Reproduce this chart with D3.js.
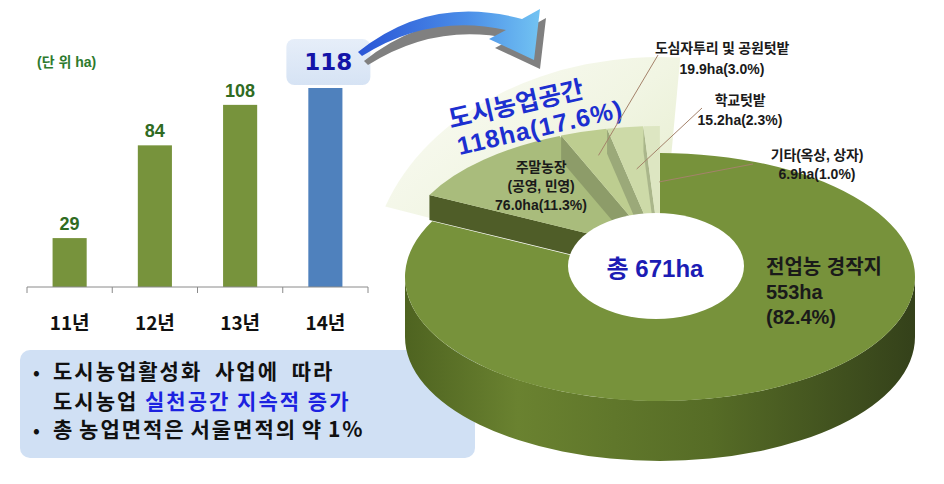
<!DOCTYPE html>
<html>
<head>
<meta charset="utf-8">
<script src="https://cdn.jsdelivr.net/npm/d3@7"></script>
<style>
  body { margin: 0; background: #fff; }
  svg { display: block; }
</style>
</head>
<body>
<svg id="chart" width="944" height="484"></svg>
<script>
// --- data ---
const years = ['11년', '12년', '13년', '14년'];
const areas = [29, 84, 108, 118];
const unitLabel = '(단 위 ha)';

const sliceNames = ['전업농 경작지', '주말농장', '도심자투리 및 공원텃밭', '학교텃밭', '기타(옥상, 상자)'];
const sliceNotes = ['', '(공영, 민영)', '', '', ''];
const sliceValues = [553, 76.0, 19.9, 15.2, 6.9];
const slicePercents = [82.4, 11.3, 3.0, 2.3, 1.0];
const urbanTitle = '도시농업공간';
const totalWord = '총';

const noteLines = [
  [{ t: '도시농업활성화 사업에 따라', c: 'k' }],
  [{ t: '도시농업 ', c: 'k' }, { t: '실천공간 지속적 증가', c: 'b' }],
  [{ t: '총 농업면적은 서울면적의 약 1%', c: 'k' }]
];

const svg = d3.select('#chart');
const defs = svg.append('defs');

function linGrad(id, stops, x2, y2) {
  const g = defs.append('linearGradient').attr('id', id)
    .attr('x1', 0).attr('y1', 0).attr('x2', x2).attr('y2', y2);
  stops.forEach(s => g.append('stop').attr('offset', s[0]).attr('stop-color', s[1]));
}
linGrad('wallGrad', [[0, '#4e6320'], [0.22, '#6a8230'], [0.6, '#566c26'], [1, '#34411a']], 1, 0);
linGrad('fanGrad', [[0, '#fbfcf6'], [0.5, '#f1f5e3'], [1, '#e2eac6']], 1, 1);
linGrad('arrowGrad', [[0, '#2a55d6'], [0.6, '#4b8ee8'], [1, '#72c3f2']], 1, 0);
linGrad('boxGrad', [[0, '#e6eef9'], [1, '#d6e3f4']], 0, 1);

const hangul = "'Noto Sans CJK KR', sans-serif";
const latin = "'Liberation Sans', 'Noto Sans CJK KR', sans-serif";

// --- note box (behind the pie) ---
svg.append('rect')
  .attr('x', 20).attr('y', 350).attr('width', 455).attr('height', 108)
  .attr('rx', 10).attr('fill', '#d0e0f4');

const noteY = [379, 409, 437];
const noteWordGap = [6, 0, -2];
noteLines.forEach((line, i) => {
  if (i !== 1) {
    svg.append('text').attr('x', 33).attr('y', noteY[i])
      .attr('font-family', hangul).attr('font-size', 18).attr('font-weight', 700)
      .attr('fill', '#111').text('•');
  }
  const t = svg.append('text').attr('x', 53).attr('y', noteY[i])
    .attr('font-family', hangul).attr('font-size', 21).attr('font-weight', 700)
    .attr('letter-spacing', 2).attr('word-spacing', noteWordGap[i]);
  line.forEach(p => t.append('tspan')
    .attr('fill', p.c === 'b' ? '#1c22e0' : '#111').text(p.t));
});

// --- bar chart ---
const x = d3.scaleBand().domain(years).range([27, 368]).paddingInner(0.6).paddingOuter(0.3);
const y = d3.scaleLinear().domain([0, d3.max(areas)]).range([287, 88]);
const last = years.length - 1;

svg.append('text').attr('x', 37).attr('y', 67)
  .attr('font-family', latin).attr('font-size', 14).attr('font-weight', 700)
  .attr('fill', '#2d7a2d').text(unitLabel);

svg.append('g').selectAll('rect').data(areas).join('rect')
  .attr('x', (d, i) => x(years[i]))
  .attr('y', d => y(d))
  .attr('width', x.bandwidth())
  .attr('height', d => y(0) - y(d))
  .attr('fill', (d, i) => i === last ? '#4f81bd' : '#77933c');

svg.append('g').selectAll('text').data(areas.slice(0, last)).join('text')
  .attr('x', (d, i) => x(years[i]) + x.bandwidth() / 2)
  .attr('y', d => y(d) - 8)
  .attr('text-anchor', 'middle')
  .attr('font-family', latin).attr('font-size', 18).attr('font-weight', 700)
  .attr('fill', '#2f6b22').text(d => d);

// axis with ticks between categories
const axisY = y(0);
svg.append('line')
  .attr('x1', x.range()[0]).attr('x2', x.range()[1])
  .attr('y1', axisY).attr('y2', axisY)
  .attr('stroke', '#8a8a8a');
svg.append('g').selectAll('line').data(d3.range(years.length + 1)).join('line')
  .attr('x1', i => x.range()[0] + i * x.step())
  .attr('x2', i => x.range()[0] + i * x.step())
  .attr('y1', axisY).attr('y2', axisY + 6)
  .attr('stroke', '#8a8a8a');
svg.append('g').selectAll('text').data(years).join('text')
  .attr('x', d => x(d) + x.bandwidth() / 2)
  .attr('y', 330)
  .attr('text-anchor', 'middle')
  .attr('font-family', hangul).attr('font-size', 19).attr('font-weight', 700)
  .attr('fill', '#111').text(d => d);

// highlighted last value in its box
const lastX = x(years[last]) + x.bandwidth() / 2 + 3;
svg.append('rect')
  .attr('x', lastX - 42).attr('y', y(areas[last]) - 49)
  .attr('width', 84).attr('height', 46).attr('rx', 8)
  .attr('fill', 'url(#boxGrad)');
svg.append('text')
  .attr('x', lastX).attr('y', y(areas[last]) - 26)
  .attr('text-anchor', 'middle').attr('dominant-baseline', 'central')
  .attr('font-family', "'DejaVu Sans', sans-serif").attr('font-size', 23).attr('font-weight', 700)
  .attr('fill', '#1414a8').text(areas[last]);

// --- curved arrow ---
const arrowPath = 'M358,52 Q430,-6 522,19 L540,9 L534,60 L489,39 L506,30 Q430,13 362,56 Z';
svg.append('path').attr('d', arrowPath).attr('fill', '#808080')
  .attr('transform', 'translate(6,9)');
svg.append('path').attr('d', arrowPath).attr('fill', 'url(#arrowGrad)');

// --- 3D donut ---
const cx = 660, cy = 277, rx = 255, ry = 124, depth = 60, lift = 25, explode = 4;
const k = ry / rx;
const TAU = Math.PI * 2;
const arcs = d3.pie().sort(null).startAngle(0).endAngle(TAU)(sliceValues);
const pt = (a, r, ox = 0, oy = 0) => [cx + ox + r * Math.sin(a), cy + oy - r * k * Math.cos(a)];

// pale callout fan for the urban group
const urbanStart = arcs[1].startAngle - TAU;
const fan = d3.arc()({ innerRadius: 0, outerRadius: 290, startAngle: urbanStart - 0.14, endAngle: 0.07 });
svg.append('path').attr('d', fan)
  .attr('transform', `translate(${cx},${cy}) scale(1,${220 / 290})`)
  .attr('fill', 'url(#fanGrad)');

// front wall of main slice
const main = arcs[0];
const w0 = Math.max(main.startAngle, Math.PI / 2), w1 = Math.min(main.endAngle, Math.PI * 1.5);
const p0 = pt(w0, rx), p1 = pt(w1, rx);
svg.append('path')
  .attr('d', `M${p0} A${rx},${ry} 0 0 1 ${p1} L${p1[0]},${p1[1] + depth} A${rx},${ry} 0 0 0 ${p0[0]},${p0[1] + depth} Z`)
  .attr('fill', 'url(#wallGrad)');

const topColors = ['#77923b', '#a9bc7c', '#bdcd90', '#cddaa8', '#dde6c2'];
const faceColors = ['#3f4a1e', '#4f5d28', '#8d9c69', '#9ba979', '#aab68b'];
const arcGen = d3.arc().innerRadius(0).outerRadius(rx);

svg.append('path').attr('d', arcGen(main))
  .attr('transform', `translate(${cx},${cy}) scale(1,${k})`)
  .attr('fill', topColors[0]);

const offsets = arcs.map((a, i) => {
  if (i === 0) return [0, 0];
  const mid = (a.startAngle + a.endAngle) / 2;
  return [explode * Math.sin(mid), -explode * k * Math.cos(mid) - lift];
});

arcs.slice(1).forEach((a, j) => {
  const i = j + 1;
  const [ox, oy] = offsets[i];
  const c0 = [cx + ox, cy + oy];
  const e0 = pt(a.startAngle, rx, ox, oy);
  svg.append('path')
    .attr('d', `M${c0} L${e0} L${e0[0]},${e0[1] + lift} L${c0[0]},${c0[1] + lift} Z`)
    .attr('fill', faceColors[i]);
  svg.append('path').attr('d', arcGen(a))
    .attr('transform', `translate(${c0[0]},${c0[1]}) scale(1,${k})`)
    .attr('fill', topColors[i]);
});

// hole
svg.append('ellipse').attr('cx', cx - 4).attr('cy', cy - 11)
  .attr('rx', 88).attr('ry', 53).attr('fill', '#fff');
const total = d3.sum(sliceValues);
svg.append('text').attr('x', cx - 5).attr('y', cy - 9)
  .attr('text-anchor', 'middle').attr('dominant-baseline', 'central')
  .attr('font-family', latin).attr('font-size', 24).attr('font-weight', 700)
  .attr('fill', '#1c1cb4').text(`${totalWord} ${total}ha`);

// urban group title on the fan
const urbanSum = d3.sum(sliceValues.slice(1));
const urbanPct = d3.sum(slicePercents.slice(1));
const ut = svg.append('g').attr('transform', 'translate(516,104) rotate(-13)')
  .attr('font-family', latin).attr('font-size', 25).attr('font-weight', 700)
  .attr('fill', '#1c2fd0').attr('text-anchor', 'middle').attr('dominant-baseline', 'central');
ut.append('text').attr('x', 0).attr('y', 0).text(urbanTitle);
ut.append('text').attr('x', 18).attr('y', 28).attr('letter-spacing', 1)
  .text(`${urbanSum.toFixed(0)}ha(${urbanPct.toFixed(1)}%)`);

// slice labels
const valText = i => `${i === 0 ? sliceValues[i] : sliceValues[i].toFixed(1)}ha`;
const pctText = i => `(${slicePercents[i].toFixed(1)}%)`;
const anchorPt = (i, r) => {
  const a = arcs[i], mid = (a.startAngle + a.endAngle) / 2;
  return pt(mid, rx * r, offsets[i][0], offsets[i][1]);
};

const leader = '#a4826a';
[[2, [658, 55], 0.8], [3, [702, 108], 0.66]].forEach(([i, from, r]) => {
  const to = anchorPt(i, r);
  svg.append('line').attr('x1', from[0]).attr('y1', from[1]).attr('x2', to[0]).attr('y2', to[1])
    .attr('stroke', leader).attr('stroke-width', 1);
});
{
  const from = anchorPt(4, 0.55);
  svg.append('line').attr('x1', from[0] + 4).attr('y1', from[1]).attr('x2', 753).attr('y2', 164)
    .attr('stroke', leader).attr('stroke-width', 1);
}

function labelBlock(lines, xPos, yPos, step, size, anchor, hs) {
  lines.forEach((s, n) => {
    svg.append('text').attr('x', xPos).attr('y', yPos + n * step)
      .attr('text-anchor', anchor).attr('dominant-baseline', 'central')
      .attr('font-family', latin).attr('font-size', size).attr('font-weight', 700)
      .attr('letter-spacing', /[가-힣]/.test(s) ? hs : 0)
      .attr('fill', '#1a1a1a').text(s);
  });
}
labelBlock([sliceNames[2], valText(2) + pctText(2)], 722, 48, 21, 14, 'middle', -0.2);
labelBlock([sliceNames[3], valText(3) + pctText(3)], 740, 100, 20, 14, 'middle', -0.2);
labelBlock([sliceNames[4], valText(4) + pctText(4)], 817, 155, 19, 14, 'middle', -0.2);
labelBlock([sliceNames[1], sliceNotes[1], valText(1) + pctText(1)], 541, 167, 19, 14, 'middle', -0.2);
labelBlock([sliceNames[0], valText(0), pctText(0)], 766, 267, 25, 20, 'start', 0);
</script>
</body>
</html>
